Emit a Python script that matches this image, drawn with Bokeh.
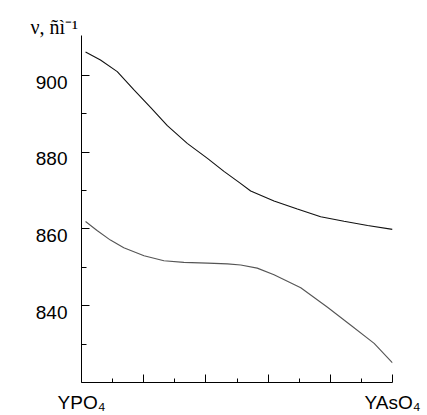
from bokeh.plotting import figure
from bokeh.models import FixedTicker, Range1d, LinearAxis, Title, CustomLabelingPolicy
from bokeh.embed import file_html
from bokeh.resources import INLINE

# composition axis (YPO4 -> YAsO4), fraction
upper_x = [0.013, 0.061, 0.115, 0.168, 0.222, 0.276, 0.340, 0.405, 0.458, 0.509,
           0.544, 0.619, 0.694, 0.769, 0.844, 0.920, 1.0]
upper_y = [906.1, 904.0, 901.0, 896.3, 891.7, 886.9, 882.3, 878.4, 875.0, 872.0,
           869.9, 867.3, 865.2, 863.2, 862.0, 860.9, 859.9]
lower_x = [0.013, 0.05, 0.093, 0.136, 0.201, 0.265, 0.329, 0.405, 0.469, 0.512,
           0.565, 0.619, 0.705, 0.791, 0.866, 0.941, 1.0]
lower_y = [861.95, 859.6, 857.1, 855.1, 853.0, 851.7, 851.3, 851.1, 850.9, 850.6,
           849.8, 848.1, 844.7, 839.6, 834.9, 830.2, 825.1]

x_major = [0.0, 0.2, 0.4, 0.6, 0.8, 1.0]
x_minor = [0.1, 0.3, 0.5, 0.7, 0.9]
x_labels = ["YPO₄", "", "", "", "", "YAsO₄"]
y_major = [840, 860, 880, 900]
y_minor = [830, 850, 870, 890]
y_labels = ["840", "860", "880", "900"]
y_title = "ν, ñì⁻¹"

Y0, Y1 = 820, 910.4
FRAME_H = 353

hide_all = CustomLabelingPolicy(code="for (const i of indices) indices.unset(i); return indices")

p = figure(width=427, height=415, output_backend="svg", toolbar_location=None,
           x_range=Range1d(0, 1), y_range=Range1d(Y0, Y1),
           min_border_left=81, min_border_right=35, min_border_top=35, min_border_bottom=27)
p.outline_line_color = None
p.grid.visible = False
p.background_fill_color = "white"
p.border_fill_color = "white"

p.line(upper_x, upper_y, line_color="#111111", line_width=1.1)
p.line(lower_x, lower_y, line_color="#555555", line_width=1.1)

keep = [i for i, l in enumerate(x_labels) if l]
xa = p.xaxis[0]
xa.ticker = FixedTicker(ticks=x_major, minor_ticks=x_minor)
xa.major_tick_in = 8
xa.major_tick_out = 0
xa.minor_tick_in = 4
xa.minor_tick_out = 0
xa.major_label_overrides = {t: l for t, l in zip(x_major, x_labels)}
xa.major_label_policy = CustomLabelingPolicy(
    args=dict(keep=keep),
    code="for (const i of indices) if (!keep.includes(i)) indices.unset(i); return indices")
xa.major_label_text_font = "Liberation Sans"
xa.major_label_text_font_size = "19px"
xa.major_label_text_color = "black"
xa.major_label_standoff = 9
xa.axis_line_color = "black"
xa.major_tick_line_color = "black"
xa.minor_tick_line_color = "black"

ya = p.yaxis[0]
ya.ticker = FixedTicker(ticks=y_major, minor_ticks=y_minor)
ya.major_tick_in = 8
ya.major_tick_out = 0
ya.minor_tick_in = 5
ya.minor_tick_out = 0
ya.major_label_policy = hide_all
ya.major_label_text_font_size = "0px"
ya.major_label_standoff = 0
ya.axis_line_color = "black"
ya.major_tick_line_color = "black"
ya.minor_tick_line_color = "black"

# tick labels sit slightly below their ticks in the original: a label-only axis
shift = 6.8 * (Y1 - Y0) / FRAME_H
label_pos = [t - shift for t in y_major]
la = LinearAxis(ticker=FixedTicker(ticks=label_pos, minor_ticks=[]),
                major_label_overrides={pos: l for pos, l in zip(label_pos, y_labels)},
                axis_line_color=None, major_tick_line_color=None, minor_tick_line_color=None,
                major_tick_in=0, major_tick_out=0, minor_tick_in=0, minor_tick_out=0,
                major_label_standoff=14, major_label_text_baseline="alphabetic",
                major_label_text_font="Liberation Sans", major_label_text_font_size="19px",
                major_label_text_color="black")
p.add_layout(la, "left")

p.title = Title(text=y_title, align="left", offset=-51, standoff=-4,
                text_font="Liberation Serif", text_font_size="20px",
                text_font_style="normal", text_color="black")

open("out.html", "w").write(file_html(p, INLINE))
